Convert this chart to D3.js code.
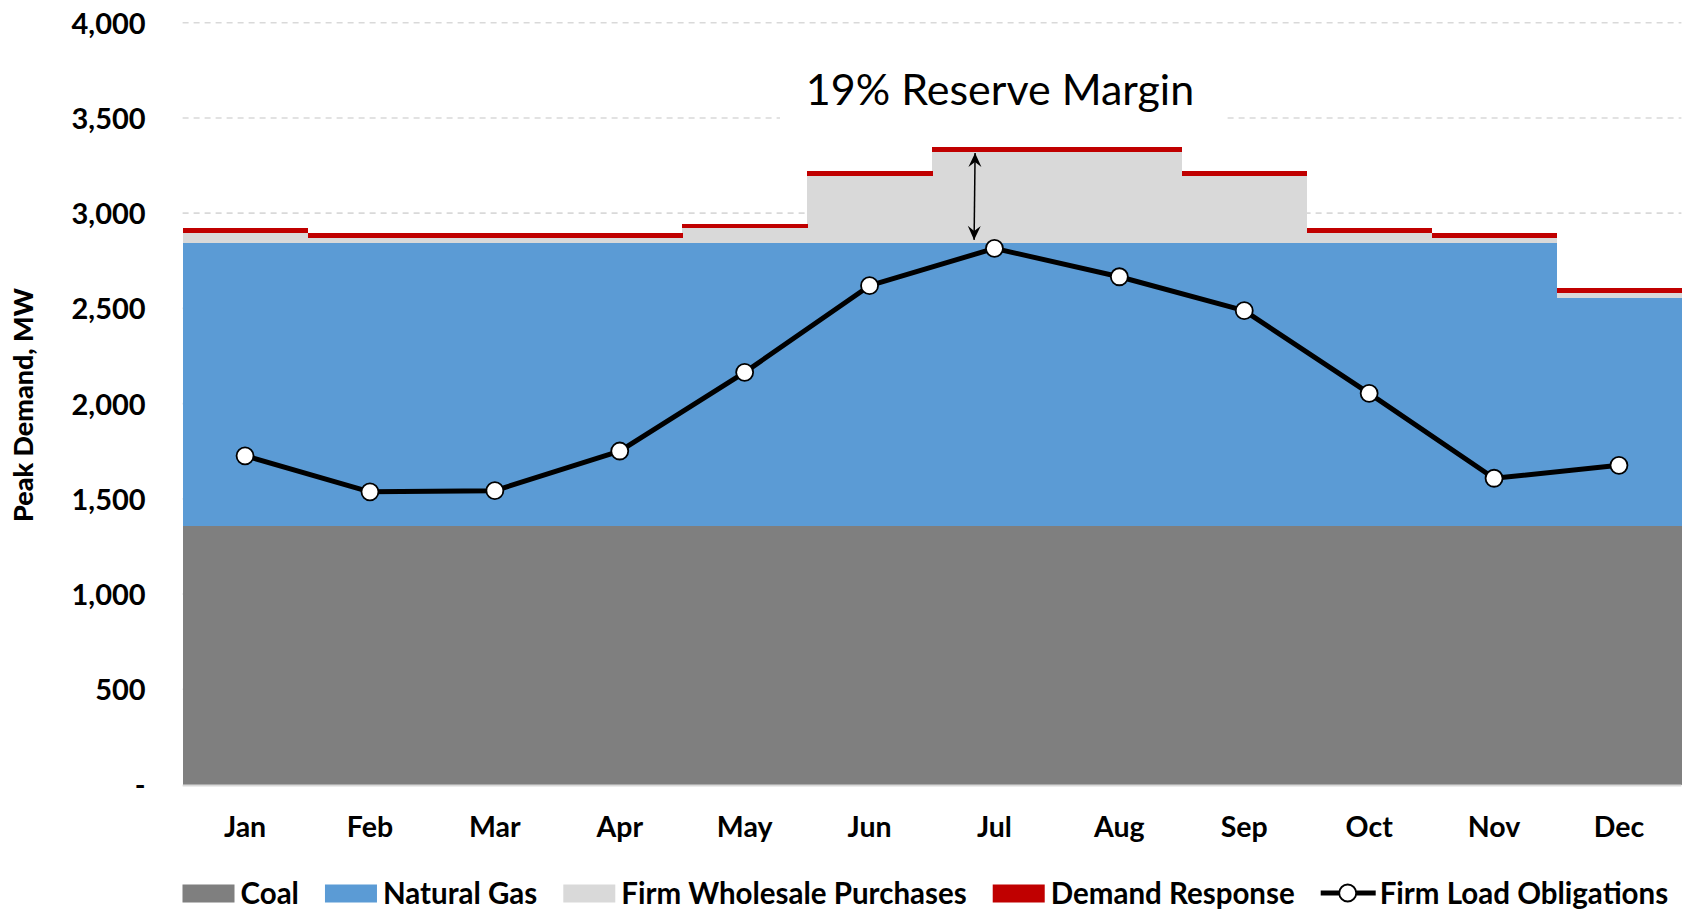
<!DOCTYPE html>
<html>
<head>
<meta charset="utf-8">
<script src="https://cdn.jsdelivr.net/npm/d3@7"></script>
<style>
  body { margin: 0; background: #fff; }
  text { font-family: Lato, "Open Sans", sans-serif; }
</style>
</head>
<body>
<div id="chart"></div>
<script>
// data (MW)
var months = ["Jan", "Feb", "Mar", "Apr", "May", "Jun", "Jul", "Aug", "Sep", "Oct", "Nov", "Dec"];
var coal = [1355, 1355, 1355, 1355, 1355, 1355, 1355, 1355, 1355, 1355, 1355, 1355];
var naturalGas = [1490, 1490, 1490, 1490, 1490, 1490, 1490, 1490, 1490, 1490, 1490, 1201];
var wholesale = [52, 26, 26, 26, 75, 352, 476, 476, 352, 52, 26, 25];
var demandResponse = [25, 25, 25, 25, 25, 25, 25, 25, 25, 25, 25, 25];
var loadObligations = [1726, 1537, 1543, 1751, 2164, 2619, 2815, 2666, 2488, 2054, 1608, 1676];
var yTicks = [0, 500, 1000, 1500, 2000, 2500, 3000, 3500, 4000];
var legendLabels = ["Coal", "Natural Gas", "Firm Wholesale Purchases", "Demand Response", "Firm Load Obligations"];
var seriesColors = ["#7f7f7f", "#5b9bd5", "#d9d9d9", "#c00000"];
var annotation = "19% Reserve Margin";
var arrowMonth = "Jul";

var W = 1683, H = 911;
var svg = d3.select("#chart").append("svg")
  .attr("width", W).attr("height", H);

var x = d3.scaleBand().domain(months).range([182.6, 1681.4]).paddingInner(0).paddingOuter(0);
var y = d3.scaleLinear().domain([0, 4000]).range([784.5, 22.7]);

// gridlines
svg.append("g").selectAll("line")
  .data(yTicks.filter(function(d){ return d > 0; }))
  .enter().append("line")
    .attr("x1", x.range()[0]).attr("x2", x.range()[1])
    .attr("y1", function(d){ return y(d); }).attr("y2", function(d){ return y(d); })
    .attr("stroke", "#d9d9d9").attr("stroke-width", 1.6)
    .attr("stroke-dasharray", "6,5");

// stacked step areas
var rows = months.map(function(m, i){
  return { month: m, coal: coal[i], gas: naturalGas[i], wholesale: wholesale[i], dr: demandResponse[i] };
});
var stack = d3.stack().keys(["coal", "gas", "wholesale", "dr"]);
var layers = stack(rows);

svg.append("g").attr("shape-rendering", "crispEdges").selectAll("g")
  .data(layers)
  .enter().append("g")
    .attr("fill", function(d, i){ return seriesColors[i]; })
  .selectAll("rect")
  .data(function(d){ return d; })
  .enter().append("rect")
    .attr("x", function(d){ return x(d.data.month); })
    .attr("width", x.bandwidth() + 0.5)
    .attr("y", function(d){ return y(d[1]); })
    .attr("height", function(d){ return y(d[0]) - y(d[1]); });

// bottom axis line
svg.append("line")
  .attr("x1", x.range()[0]).attr("x2", x.range()[1])
  .attr("y1", y(0) + 1).attr("y2", y(0) + 1)
  .attr("stroke", "#d9d9d9").attr("stroke-width", 2);

// y axis
var yAxis = svg.append("g")
  .attr("transform", "translate(" + x.range()[0] + ",0)")
  .call(d3.axisLeft(y).tickValues(yTicks).tickSize(0).tickPadding(37)
    .tickFormat(function(d){ return d === 0 ? "-" : d3.format(",")(d); }));
yAxis.select(".domain").remove();
yAxis.selectAll("text")
  .attr("font-family", "Lato, sans-serif")
  .attr("font-size", 29).attr("font-weight", "bold").attr("fill", "#000")
  .attr("dy", "0.36em");

// x axis
var xAxis = svg.append("g")
  .attr("transform", "translate(0," + y(0) + ")")
  .call(d3.axisBottom(x).tickSize(0).tickPadding(0));
xAxis.select(".domain").remove();
xAxis.selectAll("text")
  .attr("font-family", "Lato, sans-serif")
  .attr("font-size", 28.5).attr("font-weight", "bold").attr("fill", "#000")
  .attr("y", 42.5).attr("dy", "0.36em");

// y label
svg.append("text")
  .attr("transform", "translate(33,405) rotate(-90)")
  .attr("text-anchor", "middle")
  .attr("font-size", 26).attr("font-weight", "900")
  .attr("textLength", 234).attr("lengthAdjust", "spacingAndGlyphs")
  .text("Peak Demand, MW");

// load obligations line
var cx = function(i){ return x(months[i]) + x.bandwidth() / 2; };
svg.append("path")
  .datum(loadObligations)
  .attr("fill", "none").attr("stroke", "#000").attr("stroke-width", 5)
  .attr("stroke-linejoin", "round")
  .attr("d", d3.line().x(function(d, i){ return cx(i); }).y(function(d){ return y(d); }));
svg.append("g").selectAll("circle")
  .data(loadObligations)
  .enter().append("circle")
    .attr("cx", function(d, i){ return cx(i); })
    .attr("cy", function(d){ return y(d); })
    .attr("r", 8.5)
    .attr("fill", "#fff").attr("stroke", "#000").attr("stroke-width", 1.8);

// reserve margin arrow
var defs = svg.append("defs");
defs.append("marker")
  .attr("id", "ah").attr("viewBox", "-15 -7 16 14")
  .attr("refX", 0).attr("refY", 0)
  .attr("markerWidth", 16).attr("markerHeight", 14)
  .attr("markerUnits", "userSpaceOnUse")
  .attr("orient", "auto-start-reverse")
  .append("path").attr("d", "M0,0 L-14,-6.5 L-9,0 L-14,6.5 Z").attr("fill", "#000");
var ai = months.indexOf(arrowMonth);
var ax = x(arrowMonth) + x.bandwidth() * 0.345;
svg.append("line")
  .attr("x1", ax).attr("x2", ax - 1)
  .attr("y1", y(coal[ai] + naturalGas[ai] + wholesale[ai]) + 1)
  .attr("y2", y(loadObligations[ai]) - 8.5)
  .attr("stroke", "#000").attr("stroke-width", 1.5)
  .attr("marker-start", "url(#ah)").attr("marker-end", "url(#ah)");

// annotation box
svg.append("rect")
  .attr("x", 780).attr("y", 62).attr("width", 444).attr("height", 62)
  .attr("fill", "#fff");
svg.append("text")
  .attr("x", 1000).attr("y", 105)
  .attr("text-anchor", "middle")
  .attr("font-size", 43).attr("fill", "#000")
  .text(annotation);

// legend
var lg = svg.append("g").attr("transform", "translate(0,893)");
var lx = 182.5;
legendLabels.forEach(function(label, i){
  if (i < 4) {
    lg.append("rect").attr("x", lx).attr("y", -8.5).attr("width", 52).attr("height", 18)
      .attr("fill", seriesColors[i]);
  } else {
    lg.append("line").attr("x1", lx).attr("x2", lx + 55).attr("y1", 0).attr("y2", 0)
      .attr("stroke", "#000").attr("stroke-width", 5);
    lg.append("circle").attr("cx", lx + 27).attr("cy", 0).attr("r", 8.5)
      .attr("fill", "#fff").attr("stroke", "#000").attr("stroke-width", 1.8);
  }
  var t = lg.append("text")
    .attr("x", lx + (i < 4 ? 58 : 59)).attr("y", 0).attr("dy", "0.36em")
    .attr("font-size", 29.5).attr("font-weight", "bold").attr("fill", "#000")
    .text(label);
  lx = lx + (i < 4 ? 58 : 59) + t.node().getComputedTextLength() + 26;
});
</script>
</body>
</html>
